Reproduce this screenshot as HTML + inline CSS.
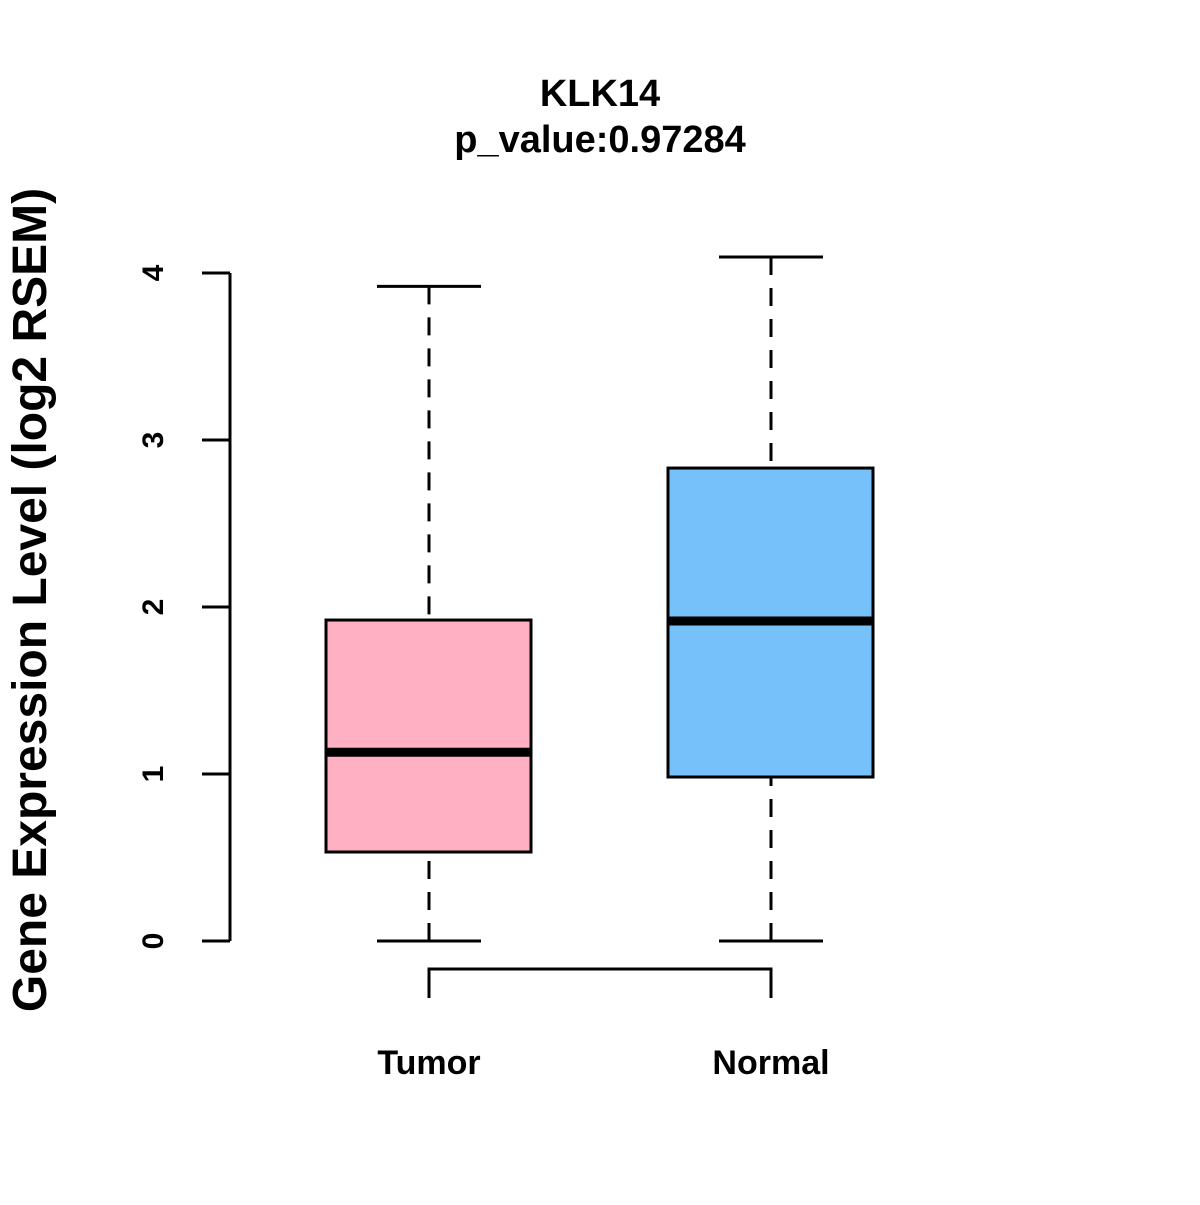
<!DOCTYPE html>
<html><head><meta charset="utf-8"><style>
body{margin:0;background:#fff}
svg text{font-family:"Liberation Sans",Arial,sans-serif;font-weight:bold;fill:#000}
</style></head><body>
<svg width="1200" height="1200" viewBox="0 0 1200 1200" xmlns="http://www.w3.org/2000/svg">
<rect width="1200" height="1200" fill="#fff"/>
<text x="600" y="106" text-anchor="middle" font-size="38">KLK14</text>
<text x="600" y="152" text-anchor="middle" font-size="38">p_value:0.97284</text>
<text transform="translate(46,600) rotate(-90)" text-anchor="middle" font-size="48">Gene Expression Level (log2 RSEM)</text>
<g id="yaxis"></g>
<g id="boxes"></g>
<path d="M429 998 V969 H771 V998" fill="none" stroke="#000" stroke-width="3"/>
</svg>
<script>
const categories=["Tumor","Normal"];
const mins=[0,0];
const q1s=[0.533,0.982];
const medians=[1.13,1.916];
const q3s=[1.922,2.832];
const maxs=[3.92,4.096];
const colors=["#FFB1C3","#76C1F9"];
const yTicks=[0,1,2,3,4];
const NS="http://www.w3.org/2000/svg";
function y(v){return 941-v*167;}
function x(i){return 429+i*342;}
function mk(tag,attrs,parent){const e=document.createElementNS(NS,tag);for(const k in attrs)e.setAttribute(k,attrs[k]);parent.appendChild(e);return e;}
const ya=document.getElementById('yaxis');
const al=mk('line',{x1:230,x2:230,y1:y(yTicks[0]),y2:y(yTicks[yTicks.length-1]),stroke:'#000','stroke-width':3},ya);


yTicks.forEach(t=>{
  const l=mk('line',{x1:202,x2:230,y1:y(t),y2:y(t),stroke:'#000','stroke-width':3},ya);
  
  
  const tx=mk('text',{transform:`translate(163,${y(t)}) rotate(-90)`,'text-anchor':'middle','font-size':30},ya);
  tx.textContent=t;
  
  
});
const bx=document.getElementById('boxes');
categories.forEach((c,i)=>{
  const cx=x(i);
  const g=mk('g',{},bx);
  
  
  mk('line',{x1:cx,x2:cx,y1:y(maxs[i]),y2:y(q3s[i]),stroke:'#000','stroke-width':3,'stroke-dasharray':'18,13'},g);
  mk('line',{x1:cx,x2:cx,y1:y(mins[i]),y2:y(q1s[i]),stroke:'#000','stroke-width':3,'stroke-dasharray':'18,13'},g);
  mk('line',{x1:cx-52,x2:cx+52,y1:y(maxs[i]),y2:y(maxs[i]),stroke:'#000','stroke-width':3},g);
  mk('line',{x1:cx-52,x2:cx+52,y1:y(mins[i]),y2:y(mins[i]),stroke:'#000','stroke-width':3},g);
  mk('rect',{x:cx-103,y:y(q3s[i]),width:205,height:y(q1s[i])-y(q3s[i]),fill:colors[i],stroke:'#000','stroke-width':3},g);
  mk('line',{x1:cx-103,x2:cx+102,y1:y(medians[i]),y2:y(medians[i]),stroke:'#000','stroke-width':9},g);
  const t=mk('text',{x:cx,y:1074,'text-anchor':'middle','font-size':34},bx);
  t.textContent=c;
  
  
});
</script>
</body></html>
